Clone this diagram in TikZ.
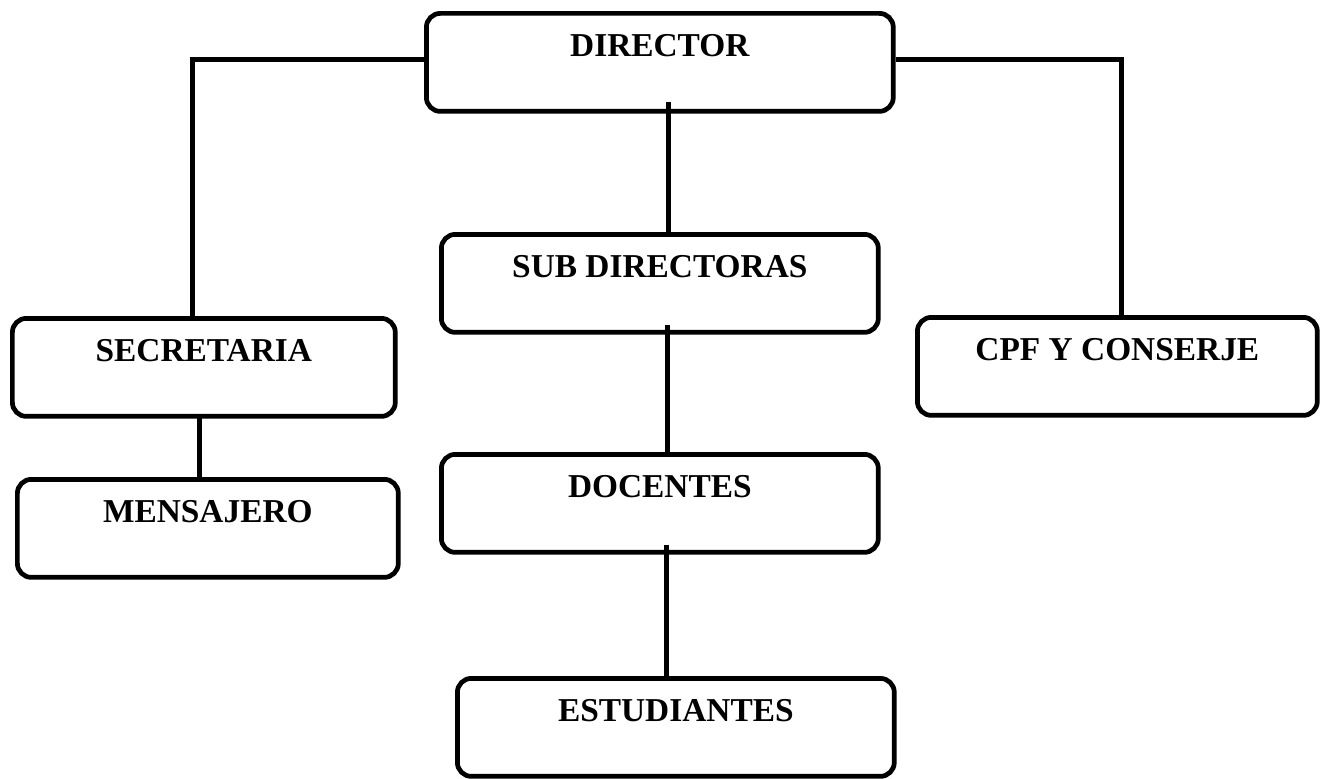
\documentclass[tikz,border=0pt]{standalone}
\usepackage{fontspec}
\setmainfont{Liberation Serif}

\begin{document}
\begin{tikzpicture}[x=0.02cm,y=-0.02cm,line width=2.7pt]

    % `cargo' is used for every box of the chart.
    % `enlace' is used for the lines between the boxes.
    \tikzstyle{cargo} = [draw,rounded corners=0.28cm,anchor=north west,inner sep=0pt,
        text height=0.87cm,text depth=1.09cm,font=\fontsize{19pt}{21pt}\selectfont\bfseries]
    \tikzstyle{enlace} = [line width=2.9pt]
    \useasboundingbox (0,0) rectangle (1327,778);
    %
    % Top.
    \node[cargo,minimum width=9.34cm] (director) at (424,11) {DIRECTOR};

    % Middle column.
    \node[cargo,minimum width=8.74cm] (subdir) at (439,232) {SUB DIRECTORAS};
    \node[cargo,minimum width=8.74cm] (docentes) at (439,452) {DOCENTES};
    \node[cargo,minimum width=8.74cm] (estudiantes) at (455,676) {ESTUDIANTES};

    % Sides.
    \node[cargo,minimum width=7.66cm] (secretaria) at (10,316) {SECRETARIA};
    \node[cargo,minimum width=7.62cm] (mensajero) at (15,477) {MENSAJERO};
    \node[cargo,minimum width=8.00cm] (cpf) at (915,315) {CPF Y CONSERJE};

    % Draw lines.
    \draw[enlace] ([yshift=0.05cm]director.west) -| ([xshift=-0.23cm]secretaria.north);
    \draw[enlace] ([yshift=0.05cm]director.east) -| ([xshift=0.08cm]cpf.north);
    \draw[enlace] ([xshift=0.17cm,yshift=0.24cm]director.south) coordinate (c1) -- (c1 |- subdir.north);
    \draw[enlace] ([xshift=0.15cm,yshift=0.2cm]subdir.south) coordinate (c2) -- (c2 |- docentes.north);
    \draw[enlace] ([xshift=0.14cm,yshift=0.2cm]docentes.south) coordinate (c3) -- (c3 |- estudiantes.north);
    \draw[enlace] ([xshift=-0.09cm,yshift=0.08cm]secretaria.south) coordinate (c4) -- (c4 |- mensajero.north);
    %
\end{tikzpicture}
\end{document}
